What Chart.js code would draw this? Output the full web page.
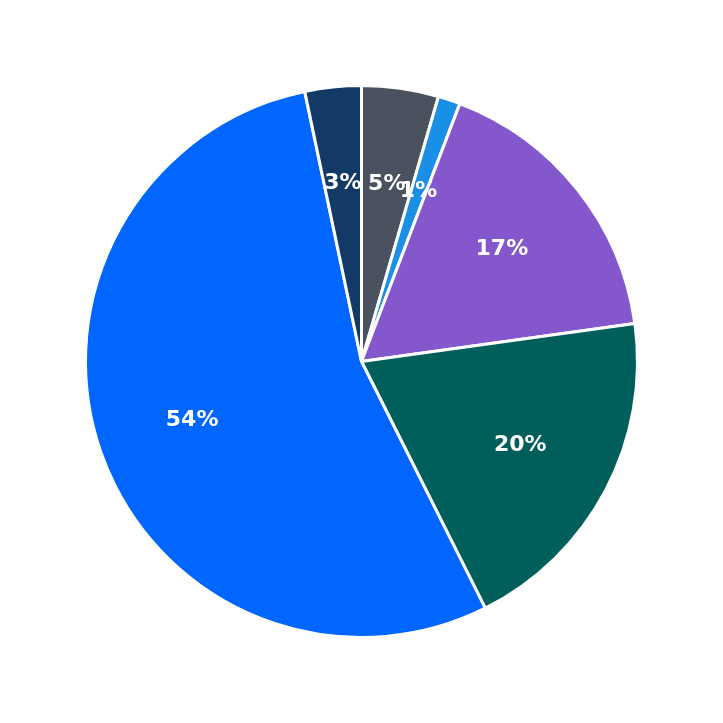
<!DOCTYPE html>
<html><head><meta charset="utf-8">
<script src="https://cdn.jsdelivr.net/npm/chart.js@4/dist/chart.umd.min.js"></script>
<style>html,body{margin:0;padding:0;background:#fff}#w{width:723px;height:723px}</style>
</head><body><div id="w"><canvas id="c"></canvas></div>
<script>
const categories = ["A","B","C","D","E","F"];
const values = [4.5, 1.3, 17.0, 19.8, 54.1, 3.3];
const colors = ["#4a5260","#1a8fe6","#8557cc","#005f5b","#0066ff","#133a66"];
const labelPlugin = {
  id:'lbl',
  afterDatasetsDraw(chart){
    const ctx=chart.ctx; const meta=chart.getDatasetMeta(0);
    const total=values.reduce((a,b)=>a+b,0);
    ctx.save();
    ctx.font='bold 22px "DejaVu Sans"';ctx.fillStyle='#fff';ctx.textAlign='center';ctx.textBaseline='middle';
    meta.data.forEach((arc,i)=>{
      const p=arc.getProps(['x','y','startAngle','endAngle','outerRadius'],true);
      const a=(p.startAngle+p.endAngle)/2, r=p.outerRadius*0.65;
      ctx.fillText(Math.round(values[i]/total*100)+'%', p.x+Math.cos(a)*r, p.y+Math.sin(a)*r);
    });
    ctx.restore();
  }
};
new Chart(document.getElementById('c'),{
  type:'pie',
  data:{labels:categories,datasets:[{data:values,backgroundColor:colors,borderColor:'#fff',borderWidth:3}]},
  options:{responsive:true,maintainAspectRatio:false,animation:false,
    layout:{padding:84},
    plugins:{legend:{display:false},tooltip:{enabled:false}}},
  plugins:[labelPlugin]
});
</script></body></html>
